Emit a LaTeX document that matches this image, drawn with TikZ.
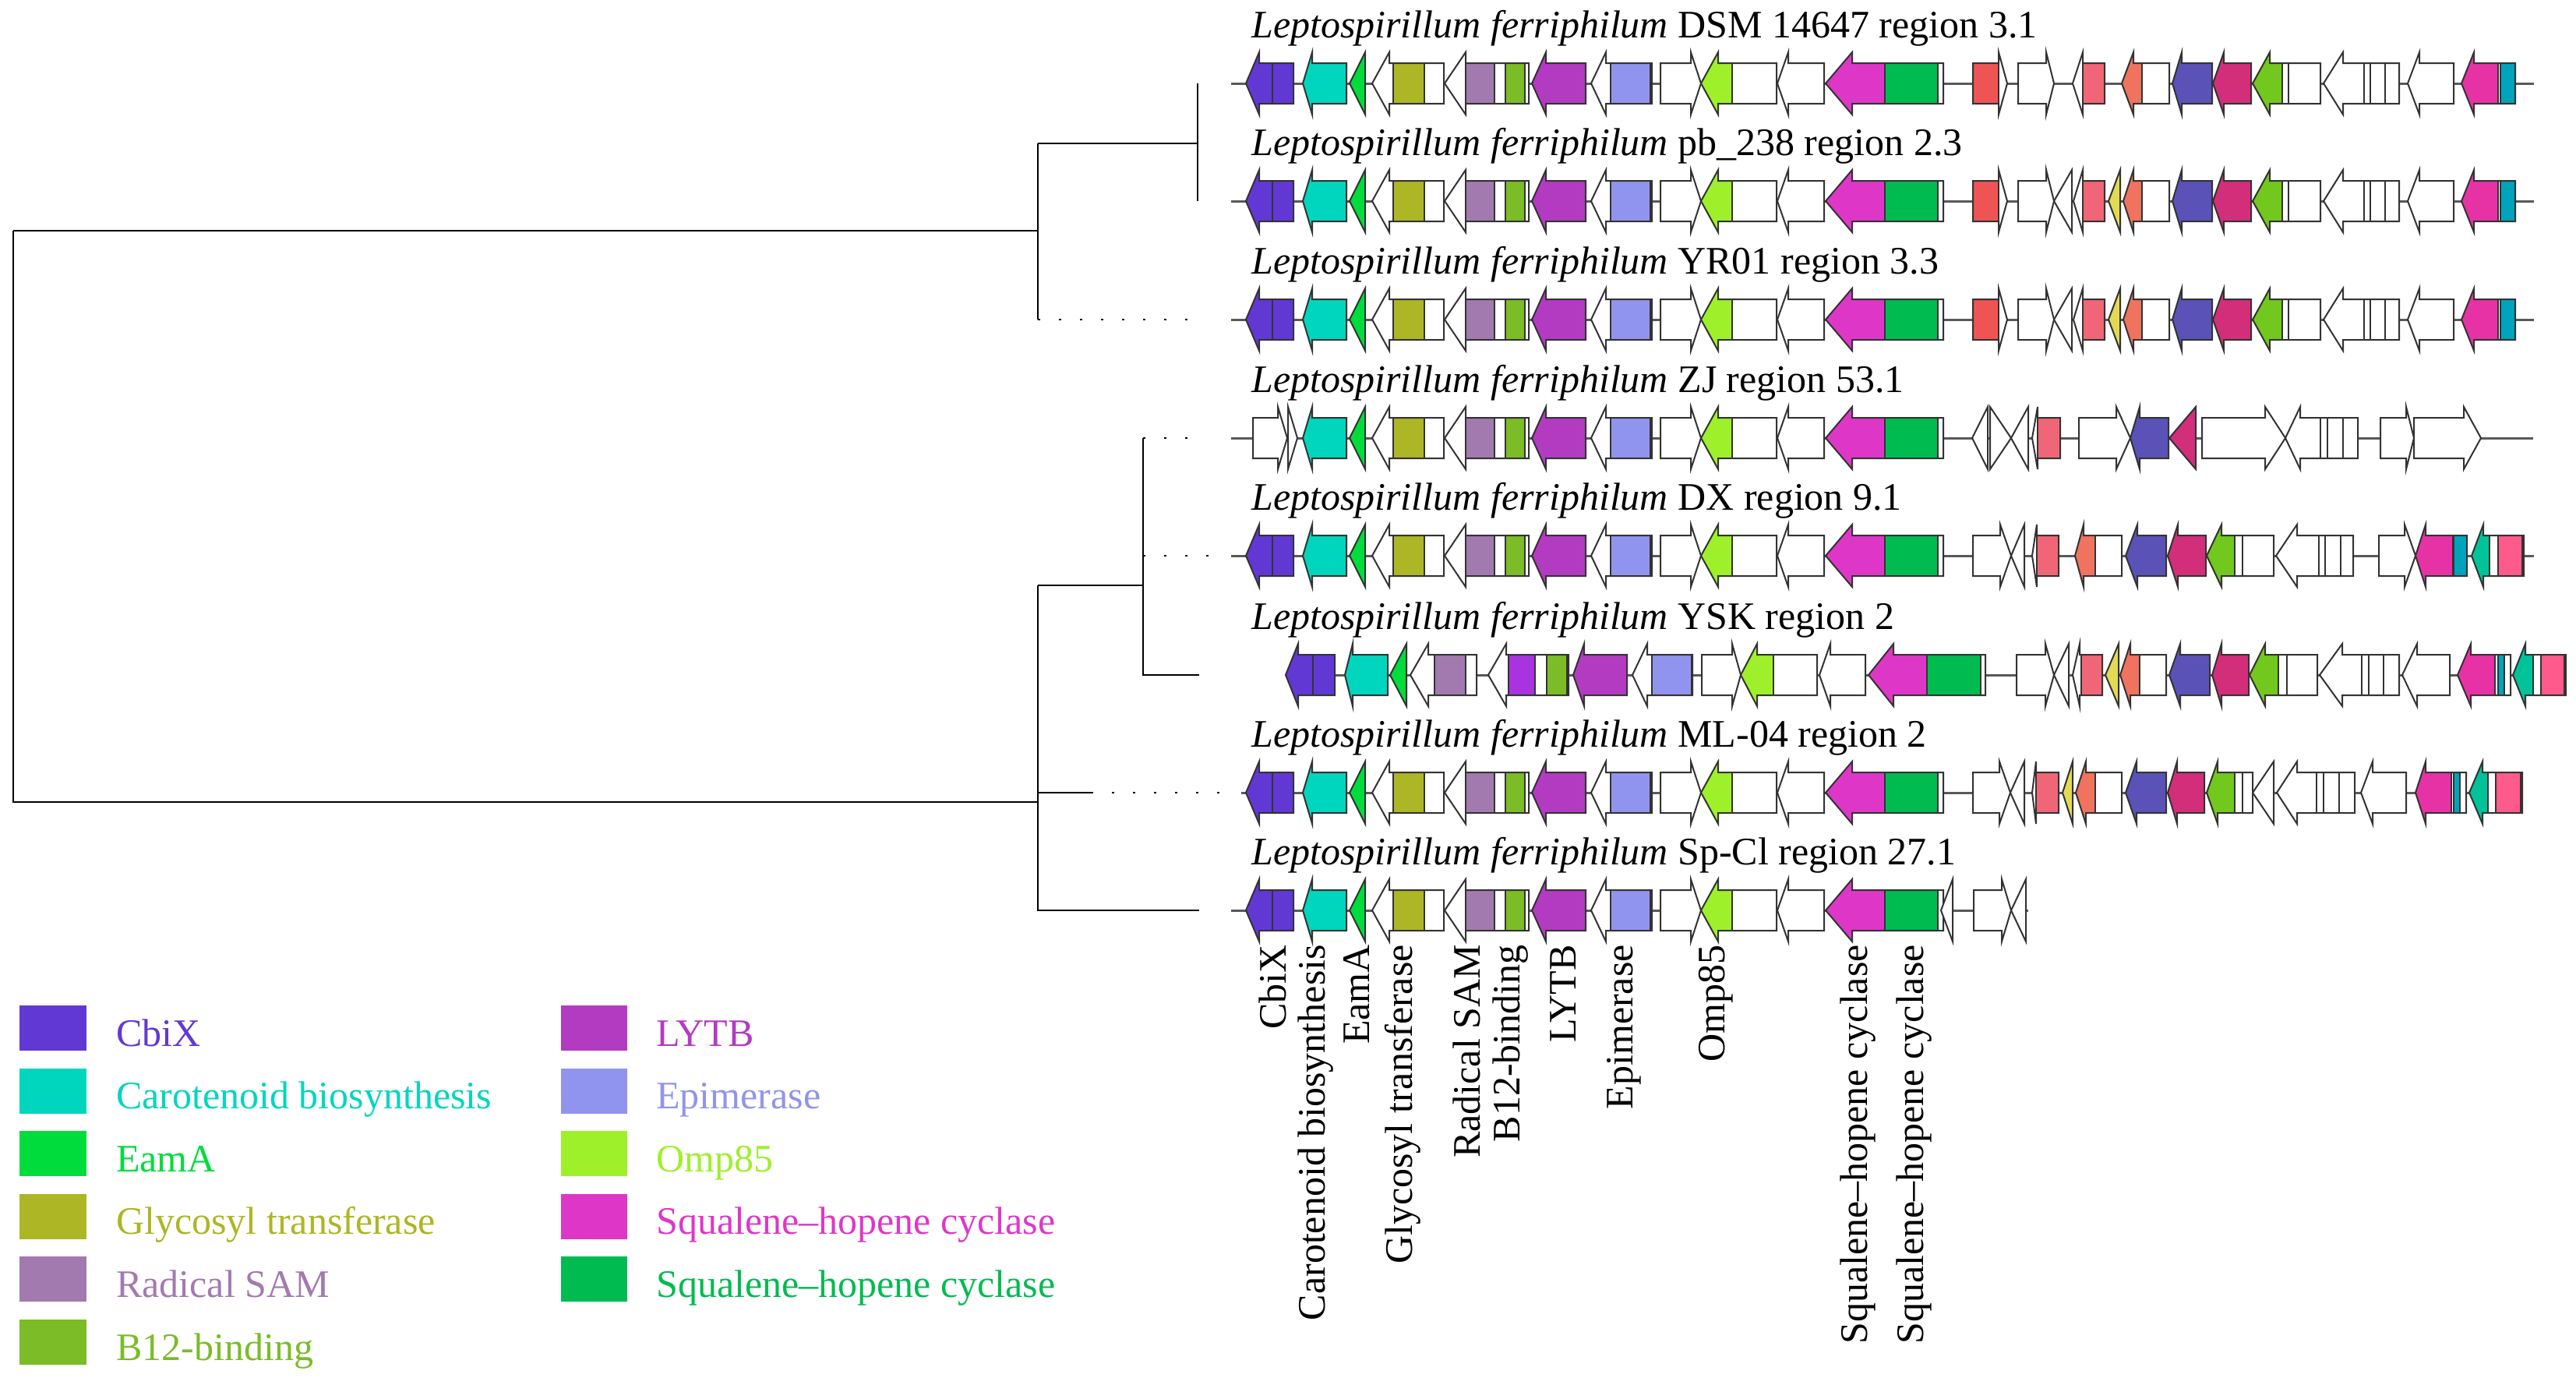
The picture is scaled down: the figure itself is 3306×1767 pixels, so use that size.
\documentclass[tikz,border=0pt]{standalone}
\usepackage{fontspec}
\setmainfont{Liberation Serif}
\definecolor{cbix}{RGB}{98,56,212}
\definecolor{carot}{RGB}{0,214,190}
\definecolor{eama}{RGB}{0,220,60}
\definecolor{glyco}{RGB}{173,182,36}
\definecolor{radsam}{RGB}{162,122,176}
\definecolor{bbind}{RGB}{123,188,39}
\definecolor{lytb}{RGB}{178,59,194}
\definecolor{epim}{RGB}{145,148,238}
\definecolor{omp}{RGB}{158,240,42}
\definecolor{shcA}{RGB}{222,55,200}
\definecolor{shcB}{RGB}{0,187,80}
\definecolor{redg}{RGB}{239,84,85}
\definecolor{pinkred}{RGB}{240,102,118}
\definecolor{salmon}{RGB}{239,115,94}
\definecolor{bluev}{RGB}{90,82,183}
\definecolor{crimson}{RGB}{211,46,122}
\definecolor{lgreen}{RGB}{114,200,28}
\definecolor{tealb}{RGB}{0,163,186}
\definecolor{yel}{RGB}{226,218,85}
\definecolor{magB}{RGB}{231,50,165}
\definecolor{tgreen}{RGB}{0,195,154}
\definecolor{pinkB}{RGB}{255,90,140}
\definecolor{purB}{RGB}{168,51,224}
\tikzset{
  outline/.style={draw=black!80,line width=2pt,line join=miter},
  backbone/.style={draw=black!65,line width=3pt},
  branch/.style={line width=2.5pt},
  dotbranch/.style={line width=2.5pt,dash pattern=on 3pt off 24pt},
  title/.style={anchor=base west,inner sep=0pt},
}
% gene arrow: y, tip, head base, end, domains a/b/colour
\newcommand\gene[5]{%
  \fill[white] (#4,#1-26) -- (#3,#1-26) -- (#3,#1-40) -- (#2,#1) -- (#3,#1+40) -- (#3,#1+26) -- (#4,#1+26) -- cycle;
  \begin{scope}
    \clip (#4,#1-26) -- (#3,#1-26) -- (#3,#1-40) -- (#2,#1) -- (#3,#1+40) -- (#3,#1+26) -- (#4,#1+26) -- cycle;
    \foreach \da/\db/\dc in {#5} {
      \fill[\dc] (\da,#1-40) rectangle (\db,#1+40);
      \draw[black!80,line width=2pt] (\da,#1-26) -- (\da,#1+26) (\db,#1-26) -- (\db,#1+26);
    }
  \end{scope}
  \draw[outline] (#4,#1-26) -- (#3,#1-26) -- (#3,#1-40) -- (#2,#1) -- (#3,#1+40) -- (#3,#1+26) -- (#4,#1+26) -- cycle;
}
\newcommand\cbixgene[1]{\gene{#1}{1599}{1616}{1660}{1599/1633/cbix,1633/1660/cbix}}
\newcommand\corebody[1]{%
  \gene{#1}{1672}{1684}{1728}{1672/1728/carot}
  \gene{#1}{1732}{1752}{1752}{1732/1752/eama}
  \gene{#1}{1761}{1783}{1853}{1788/1828/glyco}
  \gene{#1}{1854}{1881}{1962}{1881/1918/radsam,1932/1957/bbind}
  \gene{#1}{1966}{1984}{2035}{1966/2035/lytb}
  \gene{#1}{2042}{2061}{2120}{2067/2118/epim}
  \gene{#1}{2183}{2170}{2131}{0/0/white}
  \gene{#1}{2183}{2205}{2280}{2183/2223/omp}
  \gene{#1}{2281}{2295}{2341}{0/0/white}
  \gene{#1}{2343}{2377}{2494}{2343/2419/shcA,2419/2487/shcB}}
\newcommand\tailA[1]{%
  \gene{#1}{2788}{2800}{2839}{2788/2839/bluev}
  \gene{#1}{2840}{2854}{2889}{2840/2889/crimson}
  \gene{#1}{2891}{2913}{2978}{2891/2929/lgreen,2937/2978/white}
  \gene{#1}{2982}{3007}{3079}{3034/3042/white,3061/3079/white}
  \gene{#1}{3090}{3105}{3149}{0/0/white}
  \gene{#1}{3159}{3175}{3228}{3159/3206/magB,3209/3228/tealb}}
\begin{document}
\begin{tikzpicture}[x=1pt,y=-1pt,font=\fontsize{50}{60}\selectfont]
  \useasboundingbox (0,0) rectangle (3306,1767);
  % tree
  \draw[branch] (17,296) -- (1332,296) (17,296) -- (17,1029) -- (1332,1029);
  \draw[branch] (1332,184) -- (1332,410) (1332,184) -- (1537,184) (1537,107) -- (1537,258);
  \draw[dotbranch] (1332,410) -- (1545,410);
  \draw[branch] (1332,751) -- (1332,1168) -- (1539,1168) (1332,751) -- (1467,751);
  \draw[branch] (1467,562) -- (1467,866) -- (1539,866) (1332,1017) -- (1400,1017);
  \draw[dotbranch] (1467,562) -- (1530,562) (1467,713) -- (1555,713) (1400,1017) -- (1565,1017);
  % titles
  \foreach \strain/\row [count=\i] in {DSM 14647 region 3.1/107, pb\_238 region 2.3/258,
      YR01 region 3.3/410, ZJ region 53.1/562, DX region 9.1/713, YSK region 2/866,
      ML-04 region 2/1017, Sp-Cl region 27.1/1168}
    \node[title] (t\i) at (1606,\row-59) {\textit{Leptospirillum ferriphilum} \strain};
  % backbones
  \foreach \ya/\xa/\xb in {107/1580/3252, 258/1580/3252, 410/1580/3252, 562/1580/3251,
      713/1580/3252, 866/1650/3293, 1017/1593/3237, 1168/1580/2603}
    \draw[backbone] (\xa,\ya) -- (\xb,\ya);
  % DSM 14647
  \cbixgene{107} \corebody{107}
  \gene{107}{2576}{2565}{2532}{2532/2565/redg}
  \gene{107}{2636}{2626}{2590}{0/0/white}
  \gene{107}{2660}{2673}{2701}{2673/2701/pinkred}
  \gene{107}{2723}{2738}{2784}{2723/2749/salmon}
  \tailA{107}
  % pb_238 and YR01
  \foreach \ya in {258,410} {
    \cbixgene{\ya} \corebody{\ya}
    \gene{\ya}{2576}{2565}{2532}{2532/2565/redg}
    \gene{\ya}{2636}{2626}{2590}{0/0/white}
    \gene{\ya}{2636}{2659}{2659}{0/0/white}
    \gene{\ya}{2661}{2673}{2701}{2673/2701/pinkred}
    \gene{\ya}{2706}{2721}{2721}{2706/2721/yel}
    \gene{\ya}{2725}{2738}{2784}{2725/2749/salmon}
    \tailA{\ya}
  }
  % ZJ
  \gene{562}{1652}{1640}{1608}{0/0/white}
  \gene{562}{1665}{1653}{1653}{0/0/white}
  \corebody{562}
  \gene{562}{2531}{2551}{2551}{0/0/white}
  \gene{562}{2581}{2554}{2554}{0/0/white}
  \gene{562}{2581}{2603}{2603}{0/0/white}
  \gene{562}{2608}{2615}{2644}{2615/2644/pinkred}
  \gene{562}{2734}{2716}{2668}{0/0/white}
  \gene{562}{2734}{2746}{2783}{2734/2783/bluev}
  \gene{562}{2784}{2818}{2818}{2784/2818/crimson}
  \gene{562}{2933}{2907}{2826}{0/0/white}
  \gene{562}{2933}{2952}{3026}{2978/2987/white,3007/3026/white}
  \gene{562}{3098}{3088}{3055}{0/0/white}
  \gene{562}{3184}{3162}{3098}{0/0/white}
  % DX
  \cbixgene{713} \corebody{713}
  \gene{713}{2581}{2567}{2532}{0/0/white}
  \gene{713}{2581}{2598}{2598}{0/0/white}
  \gene{713}{2608}{2614}{2642}{2614/2642/pinkred}
  \gene{713}{2663}{2674}{2723}{2663/2689/salmon}
  \gene{713}{2728}{2743}{2780}{2728/2780/bluev}
  \gene{713}{2782}{2795}{2831}{2782/2831/crimson}
  \gene{713}{2832}{2851}{2918}{2832/2868/lgreen,2878/2918/white}
  \gene{713}{2921}{2948}{3020}{2976/2984/white,3004/3020/white}
  \gene{713}{3100}{3086}{3053}{0/0/white}
  \gene{713}{3100}{3113}{3166}{3100/3148/magB,3149/3166/tealb}
  \gene{713}{3172}{3187}{3239}{3172/3195/tgreen,3206/3237/pinkB}
  % YSK
  \gene{866}{1650}{1666}{1713}{1650/1685/cbix,1685/1713/cbix}
  \gene{866}{1726}{1736}{1781}{1726/1781/carot}
  \gene{866}{1784}{1805}{1805}{1784/1805/eama}
  \gene{866}{1810}{1833}{1895}{1841/1881/radsam}
  \gene{866}{1910}{1933}{2013}{1936/1970/purB,1985/2011/bbind}
  \gene{866}{2019}{2033}{2088}{2019/2088/lytb}
  \gene{866}{2095}{2114}{2172}{2120/2171/epim}
  \gene{866}{2234}{2223}{2184}{0/0/white}
  \gene{866}{2234}{2255}{2332}{2234/2276/omp}
  \gene{866}{2335}{2349}{2394}{0/0/white}
  \gene{866}{2398}{2430}{2548}{2398/2473/shcA,2473/2542/shcB}
  \gene{866}{2636}{2625}{2588}{0/0/white}
  \gene{866}{2636}{2655}{2655}{0/0/white}
  \gene{866}{2660}{2669}{2698}{2671/2698/pinkred}
  \gene{866}{2702}{2719}{2719}{2702/2719/yel}
  \gene{866}{2721}{2734}{2780}{2721/2746/salmon}
  \gene{866}{2784}{2798}{2836}{2784/2836/bluev}
  \gene{866}{2839}{2851}{2886}{2839/2886/crimson}
  \gene{866}{2887}{2907}{2974}{2887/2924/lgreen,2935/2974/white}
  \gene{866}{2977}{3006}{3079}{3031/3040/white,3059/3079/white}
  \gene{866}{3083}{3102}{3144}{0/0/white}
  \gene{866}{3154}{3171}{3222}{3154/3202/magB,3206/3214/tealb}
  \gene{866}{3225}{3241}{3293}{3225/3251/tgreen,3261/3291/pinkB}
  % ML-04
  \cbixgene{1017} \corebody{1017}
  \gene{1017}{2580}{2566}{2532}{0/0/white}
  \gene{1017}{2580}{2598}{2598}{0/0/white}
  \gene{1017}{2608}{2613}{2642}{2613/2642/pinkred}
  \gene{1017}{2647}{2660}{2660}{2647/2660/yel}
  \gene{1017}{2664}{2677}{2723}{2664/2689/salmon}
  \gene{1017}{2728}{2742}{2780}{2728/2780/bluev}
  \gene{1017}{2782}{2794}{2829}{2782/2829/crimson}
  \gene{1017}{2832}{2846}{2891}{2832/2868/lgreen,2878/2891/white}
  \gene{1017}{2891}{2918}{2918}{0/0/white}
  \gene{1017}{2922}{2948}{3022}{2973/2982/white,3002/3022/white}
  \gene{1017}{3030}{3045}{3088}{0/0/white}
  \gene{1017}{3100}{3113}{3165}{3100/3146/magB,3149/3157/tealb}
  \gene{1017}{3169}{3186}{3237}{3169/3193/tgreen,3203/3235/pinkB}
  % Sp-Cl
  \cbixgene{1168} \corebody{1168}
  \gene{1168}{2491}{2506}{2506}{0/0/white}
  \gene{1168}{2581}{2569}{2533}{0/0/white}
  \gene{1168}{2581}{2600}{2600}{0/0/white}
  % gene labels
  \foreach \gx/\glab [count=\i] in {1633/CbiX, 1689/Carotenoid biosynthesis, 1741/EamA,
      1800/Glycosyl transferase, 1882/Radical SAM, 1939/B12-binding, 2006/LYTB,
      2084/Epimerase, 2202/Omp85, 2385/Squalene--hopene cyclase, 2457/Squalene--hopene cyclase}
    \node[rotate=90,anchor=east,inner sep=0pt] (g\i) at (\gx,1212) {\glab};
  % legend
  \foreach \lab/\col [count=\i] in {CbiX/cbix, Carotenoid biosynthesis/carot, EamA/eama,
      Glycosyl transferase/glyco, Radical SAM/radsam, B12-binding/bbind}
    \fill[\col] (25,1290+80.6*\i-80.6) rectangle (111,1348+80.6*\i-80.6)
      node[title] (la\i) at (149,1342+80.6*\i-80.6) {\lab};
  \foreach \lab/\col [count=\i] in {LYTB/lytb, Epimerase/epim, Omp85/omp,
      Squalene--hopene cyclase/shcA, Squalene--hopene cyclase/shcB}
    \fill[\col] (720,1290+80.6*\i-80.6) rectangle (805,1348+80.6*\i-80.6)
      node[title] (lb\i) at (842,1342+80.6*\i-80.6) {\lab};
\end{tikzpicture}
\end{document}
